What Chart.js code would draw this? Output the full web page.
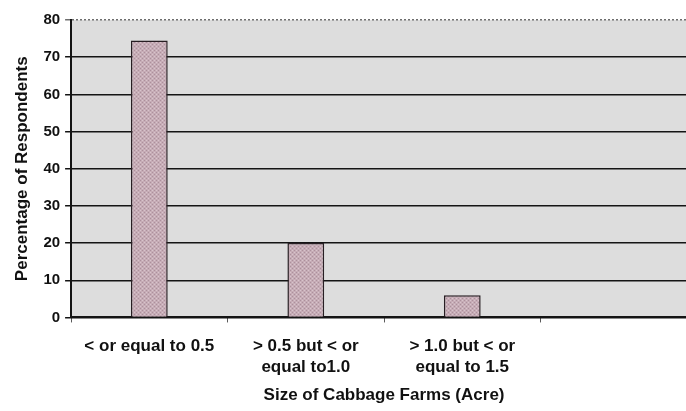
<!DOCTYPE html>
<html>
<head>
<meta charset="utf-8">
<script src="https://cdn.jsdelivr.net/npm/chart.js@4"></script>
<style>
  html, body { margin: 0; padding: 0; background: #fff; overflow: hidden; }
  #wrap { width: 700px; height: 411px; }
</style>
</head>
<body>
<div id="wrap"><canvas id="graph" width="700" height="411"></canvas></div>
<script>
const farmSizes = [
    ['< or equal to 0.5'],
    ['> 0.5 but < or', 'equal to1.0'],
    ['> 1.0 but < or', 'equal to 1.5'],
    ''
]
const respondentsPct = [74.5, 20, 6, null]

const plotGrey =  'rgb(221, 221, 221)'
const barMauve =  'rgb(198, 172, 182)'
const lineBlack = 'rgb(20, 20, 20)'
const fontFam =   '"Liberation Sans", Arial, sans-serif'

// dotted texture for the bars
function barPattern() {
    const c = document.createElement('canvas')
    c.width = 4
    c.height = 4
    const g = c.getContext('2d')
    g.fillStyle = barMauve
    g.fillRect(0, 0, 4, 4)
    g.fillStyle = 'rgb(172, 144, 156)'
    g.fillRect(0, 0, 1, 1)
    g.fillRect(2, 2, 1, 1)
    g.fillStyle = 'rgb(216, 196, 204)'
    g.fillRect(2, 0, 1, 1)
    g.fillRect(0, 2, 1, 1)
    return g.createPattern(c, 'repeat')
}

const plotBackground = {
    id: 'plotBackground',
    beforeDraw(chart) {
        const {ctx, chartArea} = chart
        ctx.save()
        ctx.fillStyle = plotGrey
        ctx.fillRect(chartArea.left, chartArea.top, chartArea.right - chartArea.left, chartArea.bottom - chartArea.top)
        ctx.restore()
    }
}

const ctx = document.getElementById('graph')
new Chart(ctx, {
    type: 'bar',
    data: {
        labels: farmSizes,
        datasets: [{
            label: 'Percentage of Respondents',
            data: respondentsPct,
            backgroundColor: barPattern(),
            borderColor: 'rgb(40, 30, 35)',
            borderWidth: 1.5,
            barPercentage: 0.235,
            categoryPercentage: 1
        }]
    },
    plugins: [plotBackground],
    options: {
        responsive: false,
        animation: false,
        layout: {
            padding: {top: 20, right: 3, left: 12, bottom: 5}
        },
        plugins: {
            legend: {display: false},
            tooltip: {enabled: false}
        },
        scales: {
            x: {
                offset: true,
                grid: {
                    offset: true,
                    drawOnChartArea: false,
                    drawTicks: true,
                    tickLength: 5,
                    color: 'rgb(90, 90, 90)'
                },
                border: {color: lineBlack, width: 2},
                ticks: {
                    color: '#111',
                    maxRotation: 0,
                    padding: 13,
                    font: {family: fontFam, size: 17, weight: 'bold', lineHeight: 1.24}
                },
                title: {
                    display: true,
                    text: 'Size of Cabbage Farms (Acre)',
                    color: '#111',
                    padding: {top: -5, bottom: 0},
                    font: {family: fontFam, size: 17, weight: 'bold'}
                }
            },
            y: {
                min: 0,
                max: 80,
                ticks: {
                    stepSize: 10,
                    color: '#111',
                    padding: 5,
                    font: {family: fontFam, size: 15, weight: 'bold'}
                },
                grid: {
                    color: (c) => c.tick && c.tick.value === 80 ? 'rgb(110, 110, 110)' : lineBlack,
                    lineWidth: 1.5,
                    tickLength: 6
                },
                border: {
                    color: lineBlack,
                    width: 2,
                    dash: (c) => c.tick && c.tick.value === 80 ? [2, 2] : []
                },
                title: {
                    display: true,
                    text: 'Percentage of Respondents',
                    color: '#111',
                    padding: {top: 0, bottom: 6},
                    font: {family: fontFam, size: 17, weight: 'bold'}
                }
            }
        }
    }
})
</script>
</body>
</html>
